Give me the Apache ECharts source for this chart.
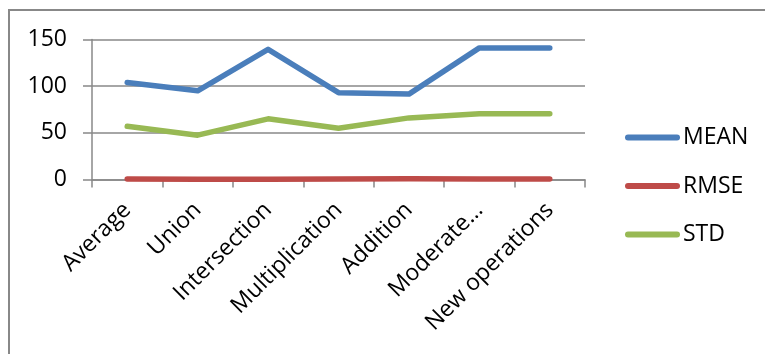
<!DOCTYPE html>
<html>
<head>
<meta charset="utf-8">
<script src="https://cdn.jsdelivr.net/npm/echarts@6/dist/echarts.min.js"></script>
<style>
  html, body { margin: 0; padding: 0; background: #fff; }
  #chart { width: 765px; height: 354px; }
</style>
</head>
<body>
<div id="chart"></div>
<script>
// Operation categories along the x axis
const categories = ['Average', 'Union', 'Intersection', 'Multiplication', 'Addition', 'Moderate\u2026', 'New operations'];

// Series values per category
const meanValues = [104, 95, 139.5, 93, 91.5, 141, 141];
const rmseValues = [0.5, 0.3, 0.3, 0.5, 0.8, 0.6, 0.5];
const stdValues  = [57, 47.5, 65, 55, 66, 70.5, 70.5];

// Value axis ticks
const yMin = 0, yMax = 150, yStep = 50;

const font = '"Open Sans", "Noto Sans", sans-serif';
const gray = '#888888';

const chart = echarts.init(document.getElementById('chart'), null, { renderer: 'canvas' });

function lineSeries(name, data, color) {
  return {
    name: name,
    type: 'line',
    data: data,
    symbol: 'none',
    smooth: false,
    lineStyle: { color: color, width: 5.5, cap: 'round', join: 'round' },
    itemStyle: { color: color },
    emphasis: { disabled: true },
    animation: false
  };
}

chart.setOption({
  animation: false,
  backgroundColor: '#ffffff',
  // chart-area frame: left and top edges
  graphic: [{
    type: 'polyline',
    shape: { points: [[9, 360], [9, 10], [770, 10]] },
    style: { fill: 'none', stroke: gray, lineWidth: 2 },
    silent: true
  }],
  grid: { left: 92, right: 180, top: 39.5, bottom: 174.5, containLabel: false },
  legend: {
    orient: 'vertical',
    left: 625,
    top: 126,
    padding: 0,
    itemWidth: 55,
    itemHeight: 6,
    itemGap: 25.5,
    // rounded bar used as the line swatch
    icon: 'path://M3,0 L52,0 A3,3 0 0 1 52,6 L3,6 A3,3 0 0 1 3,0 Z',
    textStyle: { fontFamily: font, fontSize: 23, color: '#000', padding: [0, 0, 0, -2] },
    data: ['MEAN', 'RMSE', 'STD']
  },
  xAxis: {
    type: 'category',
    data: categories,
    boundaryGap: true,
    axisLine: { show: true, lineStyle: { color: gray, width: 1.5 } },
    axisTick: { show: true, length: 8, interval: 0, lineStyle: { color: gray, width: 1.5 } },
    axisLabel: {
      interval: 0,
      rotate: 45,
      margin: 27,
      fontFamily: font,
      fontSize: 23,
      color: '#000'
    },
    splitLine: { show: false }
  },
  yAxis: {
    type: 'value',
    min: yMin,
    max: yMax,
    interval: yStep,
    axisLine: { show: true, lineStyle: { color: gray, width: 1.5 } },
    axisTick: { show: true, length: 9, lineStyle: { color: gray, width: 1.5 } },
    axisLabel: { margin: 25, fontFamily: font, fontSize: 23, color: '#000' },
    splitLine: { show: true, lineStyle: { color: gray, width: 1.5 } }
  },
  series: [
    lineSeries('MEAN', meanValues, '#4a7ebb'),
    lineSeries('RMSE', rmseValues, '#be4b48'),
    lineSeries('STD', stdValues, '#98b954')
  ]
});
</script>
</body>
</html>
